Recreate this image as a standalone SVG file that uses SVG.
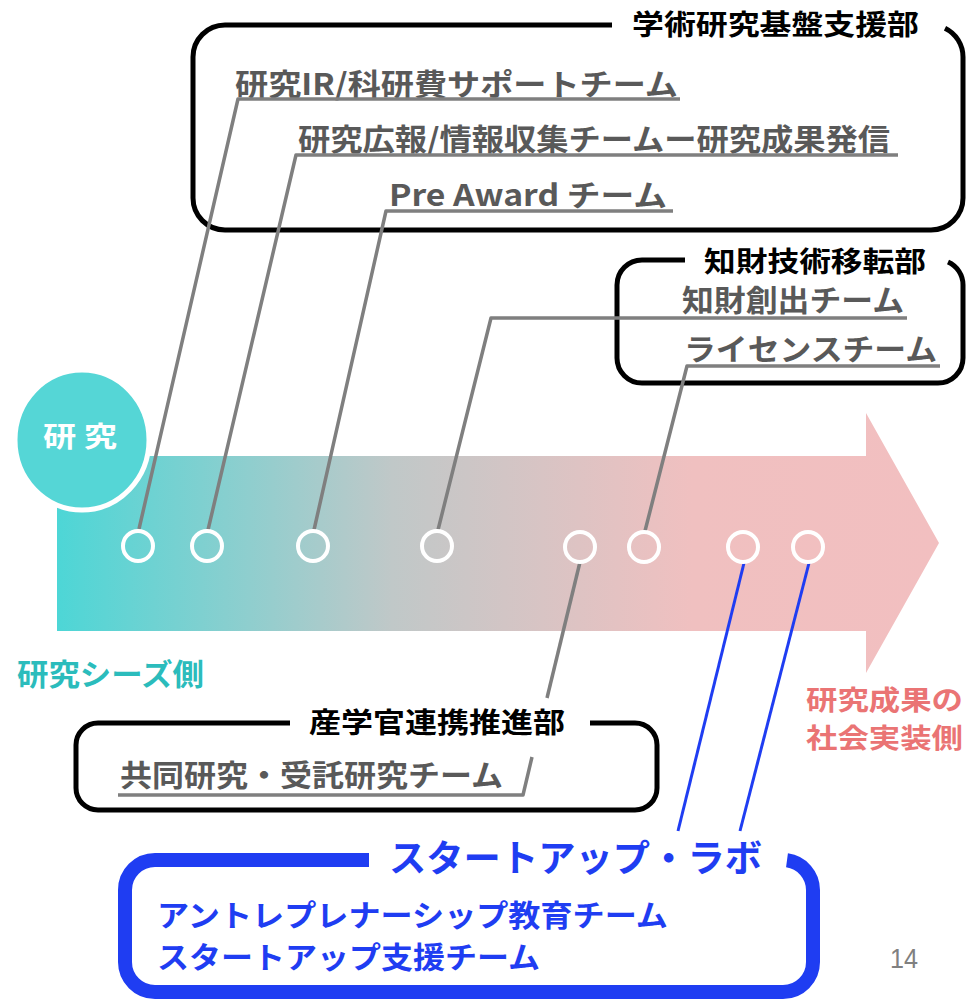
<svg xmlns="http://www.w3.org/2000/svg" width="967" height="999" viewBox="0 0 967 999">
<style>
text{font-family:"Noto Sans CJK JP","Noto Sans",sans-serif;font-weight:bold}
.team{fill:#595959;font-size:30px}
.dept{fill:#000;font-size:28px}
.blue{fill:#1f3df2}
.box{fill:none;stroke:#000;stroke-width:5;stroke-linejoin:round}
.conn{fill:none;stroke:#7f7f7f;stroke-width:3.5;stroke-linejoin:round}
.bconn{fill:none;stroke:#1f3df2;stroke-width:3}
.dot{fill:none;stroke:#fff;stroke-width:4}
</style>
<defs>
<linearGradient id="flow" gradientUnits="userSpaceOnUse" x1="57" y1="0" x2="939" y2="0">
<stop offset="0" stop-color="#4dd6d6"/>
<stop offset="0.38" stop-color="#c0c8c8"/>
<stop offset="0.72" stop-color="#f0c0c0"/>
<stop offset="1" stop-color="#f2bfc0"/>
</linearGradient>
</defs>
<rect width="967" height="999" fill="#fff"/>

<g id="flow-arrow">
<path d="M57,456 H866 V413 L939,543 L866,673 V631 H57 Z" fill="url(#flow)"/>
</g>

<g id="research">
<ellipse cx="82" cy="440" rx="67" ry="70" fill="#55d6d6" stroke="#fff" stroke-width="5"/>
<text x="43" y="447" fill="#fff" font-size="28" textLength="74" lengthAdjust="spacingAndGlyphs">研 究</text>
</g>

<g id="seeds-label">
<text x="17" y="685" fill="#2bbcbc" font-size="30" textLength="187" lengthAdjust="spacingAndGlyphs">研究シーズ側</text>
</g>
<g id="impl-label">
<text x="806" y="710" fill="#ea7474" font-size="27" textLength="157" lengthAdjust="spacingAndGlyphs">研究成果の</text>
<text x="806" y="748" fill="#ea7474" font-size="27" textLength="157" lengthAdjust="spacingAndGlyphs">社会実装側</text>
</g>

<g id="dept-academic">
<path class="box" d="M612,25 H225 A32,32 0 0 0 193,57 V198 A32,32 0 0 0 225,230 H931 A32,32 0 0 0 963,198 V57 A32,32 0 0 0 945,28.2"/>
<text class="dept" x="632" y="35" textLength="287" lengthAdjust="spacingAndGlyphs">学術研究基盤支援部</text>
<text class="team" x="235" y="95" textLength="443" lengthAdjust="spacingAndGlyphs">研究IR/科研費サポートチーム</text>
<text class="team" x="298" y="150" textLength="592" lengthAdjust="spacingAndGlyphs">研究広報/情報収集チームー研究成果発信</text>
<text class="team" x="389" y="206" textLength="278" lengthAdjust="spacingAndGlyphs">Pre Award チーム</text>
</g>

<g id="dept-ip">
<path class="box" d="M685,260 H642 A25,25 0 0 0 617,285 V358 A25,25 0 0 0 642,383 H938 A25,25 0 0 0 963,358 V285 A25,25 0 0 0 948,262"/>
<text class="dept" x="704" y="272" font-size="26" textLength="222" lengthAdjust="spacingAndGlyphs">知財技術移転部</text>
<text class="team" x="682" y="311" font-size="27" textLength="222" lengthAdjust="spacingAndGlyphs">知財創出チーム</text>
<text class="team" x="684" y="360" textLength="253" lengthAdjust="spacingAndGlyphs">ライセンスチーム</text>
</g>

<g id="dept-industry">
<path class="box" d="M290,723 H98 A22,22 0 0 0 76,745 V788 A22,22 0 0 0 98,810 H635 A22,22 0 0 0 657,788 V745 A22,22 0 0 0 635,723 H590"/>
<text class="dept" x="309" y="733" textLength="256" lengthAdjust="spacingAndGlyphs">産学官連携推進部</text>
<text class="team" x="120" y="786" textLength="383" lengthAdjust="spacingAndGlyphs">共同研究・受託研究チーム</text>
</g>

<g id="startup-lab">
<path d="M369,860 H155 A30,30 0 0 0 125,890 V962 A30,30 0 0 0 155,992 H783 A30,30 0 0 0 813,962 V890 A30,30 0 0 0 787,860.3" fill="none" stroke="#1f3df2" stroke-width="14" stroke-linejoin="round"/>
<text class="blue" x="389" y="872" font-size="37" textLength="373" lengthAdjust="spacingAndGlyphs">スタートアップ・ラボ</text>
<text class="blue" x="157" y="926" font-size="30" textLength="511" lengthAdjust="spacingAndGlyphs">アントレプレナーシップ教育チーム</text>
<text class="blue" x="157" y="968" font-size="30" textLength="383" lengthAdjust="spacingAndGlyphs">スタートアップ支援チーム</text>
</g>

<g id="connectors">
<polyline class="conn" points="680,99 238,99 139,529"/>
<polyline class="conn" points="898,155 296,155 208,530"/>
<polyline class="conn" points="673,211 386,211 314,530"/>
<polyline class="conn" points="907,318 491,318 438,530"/>
<polyline class="conn" points="940,366 687,366 645,531"/>
<polyline class="conn" points="580,562 547,698"/>
<polyline class="conn" points="532,757 523,795 118,795"/>
<line class="bconn" x1="744" y1="563" x2="678" y2="831"/>
<line class="bconn" x1="809" y1="563" x2="740" y2="831"/>
</g>

<g id="points">
<circle class="dot" cx="138" cy="546" r="15"/>
<circle class="dot" cx="207" cy="546" r="15"/>
<circle class="dot" cx="313" cy="546" r="15"/>
<circle class="dot" cx="437" cy="546" r="15"/>
<circle class="dot" cx="580" cy="547" r="15"/>
<circle class="dot" cx="644" cy="547" r="15"/>
<circle class="dot" cx="743" cy="547" r="15"/>
<circle class="dot" cx="808" cy="547" r="15"/>
</g>

<g id="page-number">
<text x="890" y="968" fill="#808080" font-size="28" style="font-weight:normal;font-family:'Liberation Sans',sans-serif" textLength="28" lengthAdjust="spacingAndGlyphs">14</text>
</g>
</svg>
